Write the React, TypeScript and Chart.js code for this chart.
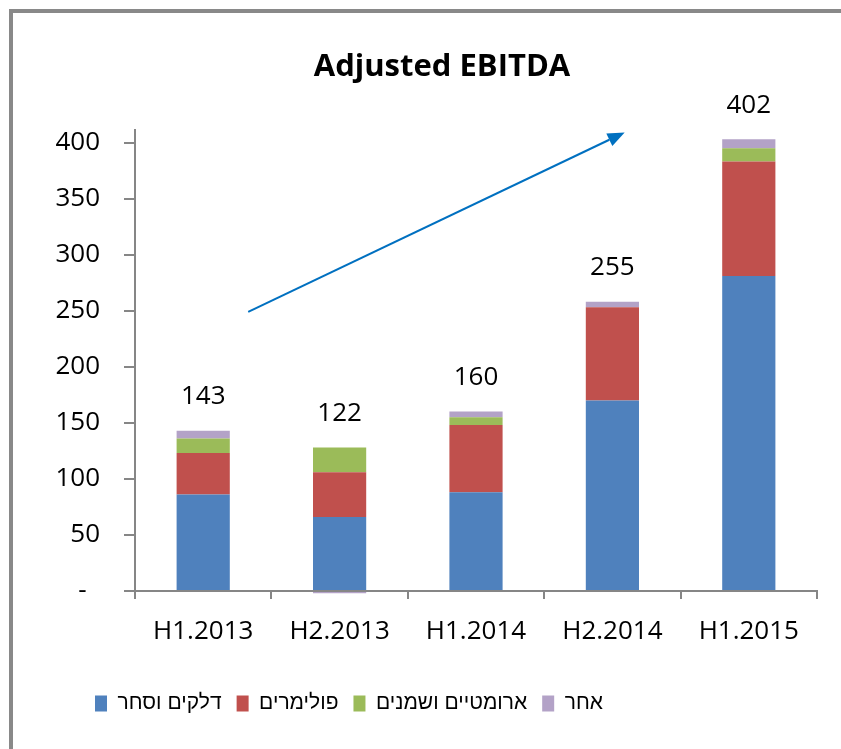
import React, { useEffect, useRef } from 'react';
import { Chart, registerables } from 'chart.js';

Chart.register(...registerables);

// ---- data ----
const categories = ['H1.2013', 'H2.2013', 'H1.2014', 'H2.2014', 'H1.2015'];
const fuelTrade = [86, 66, 88, 170, 281];
const polymers = [37, 40, 60, 83, 102];
const aromatics = [13, 22, 7, 0, 12];
const other = [7, -2, 5, 5, 8];
const totalLabels = ['143', '122', '160', '255', '402'];
const seriesNames = ['דלקים וסחר', 'פולימרים', 'ארומטיים ושמנים', 'אחר'];
const seriesColors = ['#4F81BD', '#C0504D', '#9BBB59', '#B3A2C7'];
const yTickValues = [0, 50, 100, 150, 200, 250, 300, 350, 400];
const chartTitle = 'Adjusted EBITDA';
// trend arrow, in data space: [category index, value]
const arrowFrom = [0.33, 249];
const arrowTo = [3.09, 409];

const FONT = '"Open Sans", "DejaVu Sans", sans-serif';
const LEGEND_FONT = '"Liberation Sans", Arial, sans-serif';
const AXIS = '#868686';

const overlay = {
  id: 'overlay',
  afterLayout(chart: any) {
    // nudge title and legend horizontally as in the original layout
    const t = chart.titleBlock;
    if (t) {
      t.left += 17;
      t.right += 17;
    }
    const l = chart.legend;
    if (l) {
      l.left += 47;
      l.right += 47;
    }
  },
  afterDatasetsDraw(chart: any) {
    const { ctx, scales } = chart;
    const x = scales.x;
    const y = scales.y;
    ctx.save();
    ctx.font = `26px ${FONT}`;
    ctx.fillStyle = '#000';
    ctx.textAlign = 'center';
    ctx.textBaseline = 'middle';
    categories.forEach((_, i) => {
      const vals = [fuelTrade[i], polymers[i], aromatics[i], other[i]];
      const top = vals.filter((v) => v > 0).reduce((a, b) => a + b, 0);
      ctx.fillText(totalLabels[i], x.getPixelForValue(i), y.getPixelForValue(top) - 34);
    });
    // arrow
    const x1 = x.getPixelForValue(arrowFrom[0]);
    const y1 = y.getPixelForValue(arrowFrom[1]);
    const x2 = x.getPixelForValue(arrowTo[0]);
    const y2 = y.getPixelForValue(arrowTo[1]);
    const ang = Math.atan2(y2 - y1, x2 - x1);
    const headLen = 17;
    const headHalf = 7;
    const bx = x2 - headLen * Math.cos(ang);
    const by = y2 - headLen * Math.sin(ang);
    ctx.strokeStyle = '#0070C0';
    ctx.fillStyle = '#0070C0';
    ctx.lineWidth = 2;
    ctx.beginPath();
    ctx.moveTo(x1, y1);
    ctx.lineTo(bx, by);
    ctx.stroke();
    ctx.beginPath();
    ctx.moveTo(x2, y2);
    ctx.lineTo(bx + headHalf * Math.sin(ang), by - headHalf * Math.cos(ang));
    ctx.lineTo(bx - headHalf * Math.sin(ang), by + headHalf * Math.cos(ang));
    ctx.closePath();
    ctx.fill();
    ctx.restore();
  },
};

export default function App() {
  const ref = useRef<HTMLCanvasElement>(null);
  useEffect(() => {
    if (!ref.current) return;
    const seriesData = [fuelTrade, polymers, aromatics, other];
    const chart = new Chart(ref.current, {
      type: 'bar',
      data: {
        labels: categories,
        datasets: seriesData.map((d, i) => ({
          label: seriesNames[i],
          data: d,
          backgroundColor: seriesColors[i],
          borderWidth: 0,
          barPercentage: 0.39,
          categoryPercentage: 1,
          clip: false as any,
        })),
      },
      options: {
        responsive: false,
        animation: false,
        layout: { padding: { left: 20, right: 24, top: 0, bottom: 25 } },
        plugins: {
          title: {
            display: true,
            text: chartTitle,
            color: '#000',
            font: { family: FONT, size: 31, weight: 'bold' },
            padding: { top: 36, bottom: 44 },
          },
          legend: {
            position: 'bottom',
            align: 'start',
            labels: {
              color: '#000',
              font: { family: LEGEND_FONT, size: 21 },
              boxWidth: 12,
              boxHeight: 16,
              padding: 15,
            },
          },
          tooltip: { enabled: false },
        },
        scales: {
          x: {
            stacked: true,
            grid: {
              display: true,
              drawOnChartArea: false,
              drawTicks: true,
              tickLength: 8,
              color: AXIS,
              lineWidth: 2,
              offset: true,
            },
            border: { display: true, color: AXIS, width: 2 },
            ticks: { color: '#000', font: { family: FONT, size: 26 }, padding: 17 },
            afterFit: (s: any) => {
              s.height = 87;
            },
          },
          y: {
            stacked: true,
            min: 0,
            max: 411,
            grid: {
              display: true,
              drawOnChartArea: false,
              drawTicks: true,
              tickLength: 11,
              color: AXIS,
              lineWidth: 2,
            },
            border: { display: true, color: AXIS, width: 2 },
            ticks: {
              color: '#000',
              font: { family: FONT, size: 26 },
              padding: 24,
              callback: (v: any) => (v === 0 ? '-  ' : String(v)),
            },
            afterBuildTicks: (s: any) => {
              s.ticks = yTickValues.map((v) => ({ value: v }));
            },
            afterFit: (s: any) => {
              s.width = 102;
            },
          },
        },
      },
      plugins: [overlay],
    });
    return () => chart.destroy();
  }, []);

  return (
    <div
      style={{
        position: 'fixed',
        left: 9,
        top: 9,
        borderLeft: '4px solid #898989',
        borderTop: '4px solid #898989',
        background: '#fff',
      }}
    >
      <canvas ref={ref} width={828} height={736} style={{ display: 'block', width: 828, height: 736 }} />
    </div>
  );
}
